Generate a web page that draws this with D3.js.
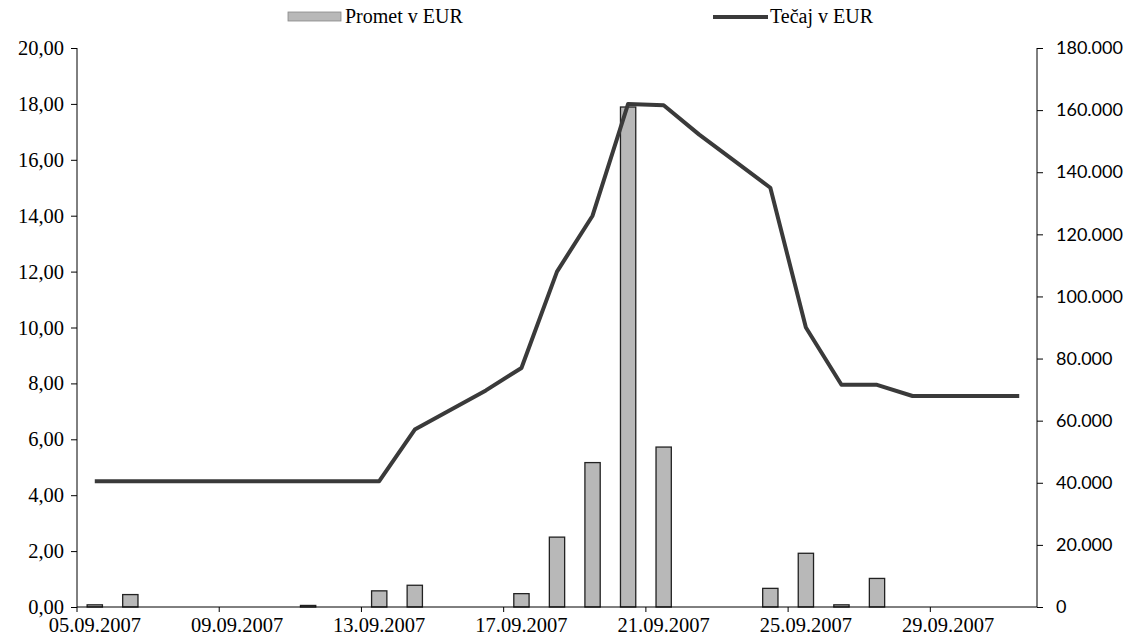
<!DOCTYPE html>
<html>
<head>
<meta charset="utf-8">
<script src="https://cdn.jsdelivr.net/npm/d3@7"></script>
<style>
  html, body { margin: 0; padding: 0; background: #fff; }
  svg { display: block; }
</style>
</head>
<body>
<svg id="chart" width="1130" height="642"></svg>
<script>
// ---- data ----
const dates = ["05.09.2007","06.09.2007","07.09.2007","08.09.2007","09.09.2007","10.09.2007","11.09.2007",
  "12.09.2007","13.09.2007","14.09.2007","15.09.2007","16.09.2007","17.09.2007","18.09.2007","19.09.2007",
  "20.09.2007","21.09.2007","22.09.2007","23.09.2007","24.09.2007","25.09.2007","26.09.2007","27.09.2007",
  "28.09.2007","29.09.2007","30.09.2007","01.10.2007"];
const tecaj = [4.5,4.5,4.5,4.5,4.5,4.5,4.5,4.5,4.5,6.35,7.05,7.75,8.55,12.0,14.0,18.0,17.95,16.9,15.95,15.0,
  10.0,7.95,7.95,7.55,7.55,7.55,7.55];
const promet = [700,4000,0,0,0,0,500,0,5200,7000,0,0,4300,22500,46500,161000,51500,0,0,6000,17300,700,9200,0,0,0,0];
const xTickDates = ["05.09.2007","09.09.2007","13.09.2007","17.09.2007","21.09.2007","25.09.2007","29.09.2007"];
const leftTicks = [0,2,4,6,8,10,12,14,16,18,20];
const rightTicks = [0,20000,40000,60000,80000,100000,120000,140000,160000,180000];
const seriesNames = ["Promet v EUR", "Tečaj v EUR"];

// ---- layout ----
const W = 1130, H = 642;
const m = {left: 77, right: 93, top: 48, bottom: 35};
const iw = W - m.left - m.right, ih = H - m.top - m.bottom;
const svg = d3.select("#chart");
const g = svg.append("g").attr("transform", `translate(${m.left},${m.top})`);

const x = d3.scaleBand().domain(dates).range([0, iw]).paddingInner(0).paddingOuter(0);
const bw = x.bandwidth();
const yL = d3.scaleLinear().domain([0, 20]).range([ih, 0]);
const yR = d3.scaleLinear().domain([0, 180000]).range([ih, 0]);

const loc = d3.formatLocale({decimal: ",", thousands: ".", grouping: [3], currency: ["", ""]});
const fL = loc.format(".2f"), fR = loc.format(",.0f");

const serif = "'Liberation Serif', 'Times New Roman', serif";
const sans = "Lato, 'Liberation Sans', Arial, sans-serif";

// bars
const barW = bw * 0.43;
g.selectAll("rect.bar").data(dates.map((d, i) => ({d, v: promet[i]})).filter(o => o.v > 0))
  .enter().append("rect").attr("class", "bar")
  .attr("x", o => x(o.d) + (bw - barW) / 2)
  .attr("width", barW)
  .attr("y", o => yR(o.v))
  .attr("height", o => ih - yR(o.v))
  .attr("fill", "#b8b8b8").attr("stroke", "#222").attr("stroke-width", 1.3);

// line
const line = d3.line().x((d, i) => x(dates[i]) + bw / 2).y(d => yL(d));
g.append("path").datum(tecaj).attr("d", line)
  .attr("fill", "none").attr("stroke", "#3a3a3a").attr("stroke-width", 4)
  .attr("stroke-linejoin", "round");

// left axis
const axL = g.append("g").call(d3.axisLeft(yL).tickValues(leftTicks).tickFormat(fL).tickSize(6).tickPadding(7));
axL.select(".domain").attr("stroke", "#000").attr("d", `M0,0V${ih}`);
axL.selectAll("text").attr("font-family", serif).attr("font-size", 20.5).attr("fill", "#000");

// right axis
const axR = g.append("g").attr("transform", `translate(${iw},0)`)
  .call(d3.axisRight(yR).tickValues(rightTicks).tickFormat(fR).tickSize(6).tickPadding(13));
axR.select(".domain").attr("stroke", "#000").attr("d", `M0,0V${ih}`);
axR.selectAll("text").attr("font-family", sans).attr("font-size", 18).attr("fill", "#000");

// bottom axis
const axB = g.append("g").attr("transform", `translate(0,${ih})`)
  .call(d3.axisBottom(x).tickValues(xTickDates).tickSize(5).tickPadding(5));
axB.select(".domain").attr("stroke", "#000").attr("d", `M0,0H${iw}`);
axB.selectAll(".tick line").attr("x1", -bw / 2).attr("x2", -bw / 2);
axB.selectAll("text").attr("font-family", serif).attr("font-size", 20.5).attr("fill", "#000");

// legend
const lg = svg.append("g");
lg.append("rect").attr("x", 288).attr("y", 12).attr("width", 53).attr("height", 9)
  .attr("fill", "#b8b8b8").attr("stroke", "#888").attr("stroke-width", 0.8);
lg.append("text").attr("x", 345).attr("y", 23).text(seriesNames[0])
  .attr("font-family", serif).attr("font-size", 20);
lg.append("line").attr("x1", 713).attr("x2", 768).attr("y1", 17).attr("y2", 17)
  .attr("stroke", "#3a3a3a").attr("stroke-width", 4);
lg.append("text").attr("x", 770).attr("y", 23).text(seriesNames[1])
  .attr("font-family", serif).attr("font-size", 20);
</script>
</body>
</html>
